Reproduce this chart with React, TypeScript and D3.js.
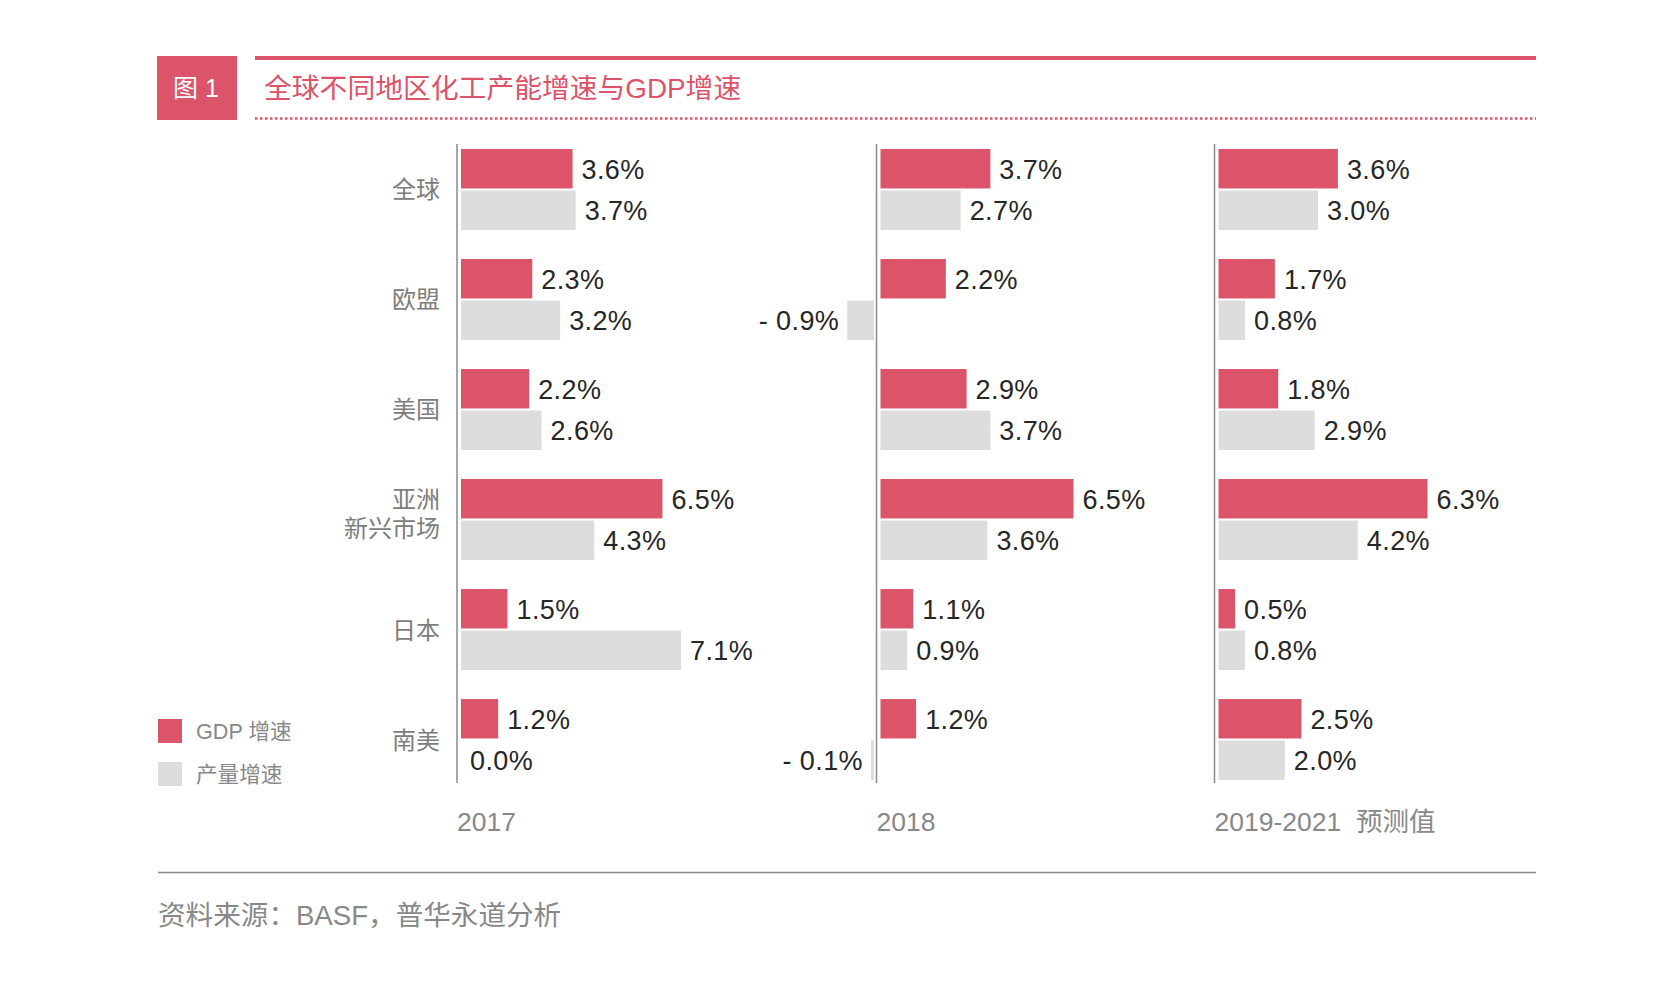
import React from "react";
import * as d3 from "d3";

// regions (rows)
const regions = ["全球", "欧盟", "美国", "亚洲新兴市场", "日本", "南美"];
const regionLines: string[][] = [["全球"], ["欧盟"], ["美国"], ["亚洲", "新兴市场"], ["日本"], ["南美"]];

const periods = ["2017", "2018", "2019-2021  预测值"];

// GDP growth, %
const gdp2017 = [3.6, 2.3, 2.2, 6.5, 1.5, 1.2];
const gdp2018 = [3.7, 2.2, 2.9, 6.5, 1.1, 1.2];
const gdp2019 = [3.6, 1.7, 1.8, 6.3, 0.5, 2.5];

// chemical capacity growth, %
const prod2017 = [3.7, 3.2, 2.6, 4.3, 7.1, 0.0];
const prod2018 = [2.7, -0.9, 3.7, 3.6, 0.9, -0.1];
const prod2019 = [3.0, 0.8, 2.9, 4.2, 0.8, 2.0];

const seriesNames = ["GDP 增速", "产量增速"];

const RED = "#DB546A";
const GREY = "#DDDDDD";
const LABEL = "#7d7d7d";
const VALUE = "#262626";
const FONT = "'Liberation Sans', Arial, 'Noto Sans CJK SC', sans-serif";

const panels = [
  { axisX: 457, maxV: 7.1, maxW: 220, gdp: gdp2017, prod: prod2017 },
  { axisX: 876.5, maxV: 6.5, maxW: 193, gdp: gdp2018, prod: prod2018 },
  { axisX: 1214.5, maxV: 6.3, maxW: 209, gdp: gdp2019, prod: prod2019 },
];

const fmt = (v: number) => (v < 0 ? "- " + Math.abs(v).toFixed(1) + "%" : v.toFixed(1) + "%");

export default function App() {
  const W = 1654;
  const H = 998;

  const y = d3.scaleBand<string>().domain(regions).range([149, 780]).paddingInner(0.264).paddingOuter(0);
  const ySub = d3.scaleBand<string>().domain(["gdp", "prod"]).range([0, y.bandwidth()]).paddingInner(0.05);

  return (
    <div style={{ position: "absolute", left: 0, top: 0 }}>
      <svg width={W} height={H} style={{ display: "block", background: "#fff" }} fontFamily={FONT}>
        {/* header */}
        <rect x={157} y={56} width={80} height={64} fill={RED} />
        <text x={173} y={97} fill="#fff" fontSize={25}>
          图 1
        </text>
        <rect x={255} y={56} width={1281} height={4} fill={RED} />
        <text x={264} y={98} fill={RED} fontSize={27.8}>
          全球不同地区化工产能增速与GDP增速
        </text>
        <line x1={255} x2={1536} y1={118.5} y2={118.5} stroke={RED} strokeWidth={2.5} strokeDasharray="2.5 2.5" />

        {/* region labels */}
        {regions.map((r, i) => {
          const cy = (y(r) as number) + y.bandwidth() / 2;
          const lines = regionLines[i];
          return lines.map((ln, j) => (
            <text
              key={r + j}
              x={440}
              y={lines.length === 1 ? cy + 9 : cy - 21 + j * 29.5 + 9}
              textAnchor="end"
              fill={LABEL}
              fontSize={24}
            >
              {ln}
            </text>
          ));
        })}

        {/* panels */}
        {panels.map((p, pi) => {
          const x = d3.scaleLinear().domain([0, p.maxV]).range([0, p.maxW]);
          const posStart = p.axisX + 4;
          const negEnd = p.axisX - 2.5;
          return (
            <g key={pi}>
              <line x1={p.axisX} x2={p.axisX} y1={144} y2={783} stroke="#8a8a8a" strokeWidth={1.5} />
              {regions.map((r, i) =>
                (["gdp", "prod"] as const).map((k) => {
                  const v = p[k][i];
                  const by = (y(r) as number) + (ySub(k) as number);
                  const bh = ySub.bandwidth();
                  const w = x(Math.abs(v));
                  const bx = v < 0 ? negEnd - w : posStart;
                  const cy = by + bh / 2;
                  return (
                    <g key={r + k}>
                      {w > 0 && <rect x={bx} y={by} width={w} height={bh} fill={k === "gdp" ? RED : GREY} />}
                      <text
                        x={v < 0 ? bx - 8 : posStart + w + 9}
                        y={cy + 10}
                        textAnchor={v < 0 ? "end" : "start"}
                        fill={VALUE}
                        fontSize={27}
                        letterSpacing={0.4}
                      >
                        {fmt(v)}
                      </text>
                    </g>
                  );
                })
              )}
              <text x={p.axisX} y={831} fill="#888" fontSize={26.5} style={{ whiteSpace: "pre" }}>
                {periods[pi]}
              </text>
            </g>
          );
        })}

        {/* legend */}
        {seriesNames.map((s, i) => (
          <g key={s}>
            <rect x={158} y={719 + i * 43} width={24} height={24} fill={i === 0 ? RED : GREY} />
            <text x={196} y={739 + i * 43} fill="#888" fontSize={21.6}>
              {s}
            </text>
          </g>
        ))}

        {/* footer */}
        <line x1={158} x2={1536} y1={872.5} y2={872.5} stroke="#8a8a8a" strokeWidth={1.5} />
        <text x={158} y={925} fill="#888" fontSize={27.6}>
          资料来源：BASF，普华永道分析
        </text>
      </svg>
    </div>
  );
}
